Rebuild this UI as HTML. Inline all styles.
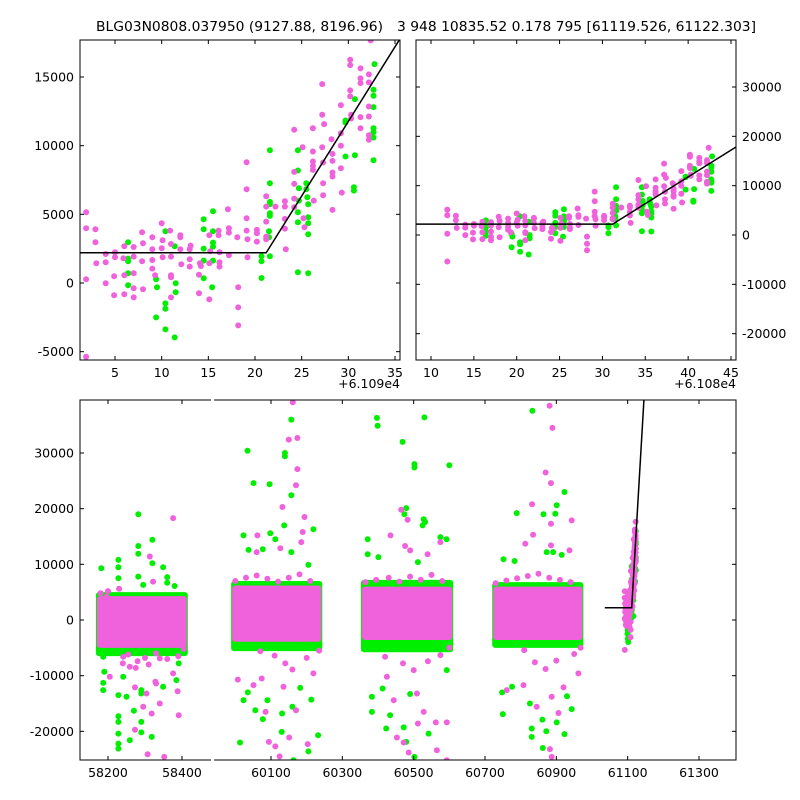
<!DOCTYPE html>
<html><head><meta charset="utf-8">
<style>
html,body{margin:0;padding:0;background:#fff;}
svg{display:block;font-family:"DejaVu Sans","Liberation Sans",sans-serif;}
</style></head>
<body>
<svg id="chart" width="800" height="800" viewBox="0 0 800 800" xmlns="http://www.w3.org/2000/svg">
<rect width="800" height="800" fill="#fff"/>
<text x="96" y="31" font-size="13" textLength="287" lengthAdjust="spacingAndGlyphs">BLG03N0808.037950 (9127.88, 8196.96)</text>
<text x="397" y="31" font-size="13" textLength="359" lengthAdjust="spacingAndGlyphs">3 948 10835.52 0.178 795 [61119.526, 61122.303]</text>
</svg>
<script>
// ---- data: recent season (days relative to 61090) ----
const pinkDays=[1.9,1.9,2.9,2.9,1.9,3.0,4.0,4.0,4.0,5.0,5.0,4.9,4.9,6.0,5.9,6.0,6.0,7.0,7.0,7.0,7.0,7.0,7.9,8.0,7.9,8.0,9.0,9.0,9.0,9.0,9.3,10.0,10.1,10.0,10.1,10.9,11.0,11.0,11.0,11.0,11.0,12.0,12.0,12.0,12.1,13.1,13.0,13.0,13.0,14.1,14.0,14.0,14.2,15.1,15.2,15.1,15.1,16.1,16.1,16.2,16.2,16.2,17.1,17.2,17.2,17.2,18.1,18.2,18.2,18.2,19.1,19.1,19.1,19.1,19.2,19.2,20.2,20.2,20.2,21.2,21.2,21.2,21.2,21.2,22.2,23.2,23.2,23.2,23.2,23.3,24.2,24.2,24.2,24.2,24.2,25.1,25.2,25.3,26.2,26.2,26.2,26.2,26.2,26.3,27.2,27.2,27.2,27.3,27.3,27.3,27.4,28.2,28.3,28.3,28.3,28.3,28.3,29.2,29.2,29.2,29.2,29.3,30.2,30.2,30.2,30.2,30.3,30.3,31.3,31.3,31.3,31.3,31.3,32.2,32.2,32.2,32.2,32.2,32.2,32.4,1.9];
const pinkFlux=[5152,3985,3912,2965,267,1434,2114,1507,-24,2236,1871,486,-899,2673,1798,559,-826,2624,1920,705,-389,-1045,3694,2892,1580,-462,3329,2454,1677,1045,559,4350,3110,2527,1871,3815,2843,1920,559,413,-1045,3475,3329,2454,1361,2722,2454,1725,1191,1434,608,-753,1239,3475,2309,1434,-1191,3815,3475,2236,1507,1191,5370,3985,3669,2017,3329,-316,-1774,-3086,8797,6828,4714,3815,3183,1871,3864,3621,3013,6318,5565,4471,3378,3183,5565,5954,5565,4666,3961,2454,11154,8092,7217,6148,5516,9890,4714,4058,11275,9574,8845,8529,8238,6002,14483,12247,9890,8772,7266,6391,11567,10473,9404,8894,8043,7752,5322,12952,10911,9987,8359,6585,16257,15868,14021,13584,11980,12247,15625,14896,14556,12077,11275,15188,14604,12855,12126,10765,10425,17666,-5370];
const greenDays=[6.4,6.4,6.4,6.4,6.4,9.4,9.5,9.4,10.4,10.4,10.4,10.4,11.4,11.5,11.5,11.4,14.5,14.5,14.5,14.5,14.5,15.5,15.5,15.5,15.5,15.5,15.4,20.7,20.7,20.7,21.6,21.6,21.6,21.6,21.6,21.6,21.5,21.5,21.6,24.6,24.6,24.7,24.7,24.6,24.6,24.6,25.5,25.5,25.6,25.7,25.7,25.7,25.7,25.7,29.7,29.7,29.7,30.7,30.7,30.6,30.6,32.8,32.7,32.7,32.7,32.7,32.7,32.7,32.7];
const greenFlux=[2965,1774,1580,705,-170,267,-316,-2503,3767,-1482,-1871,-3378,2673,-24,-680,-3961,4641,3912,2503,1628,340,5225,3767,2940,2649,1628,-316,1944,1580,365,9671,7266,5905,5735,5079,4884,3767,3329,1944,9671,8189,6901,6002,5152,4423,778,7266,6828,6245,5735,4787,4350,3548,705,11834,11688,9210,13389,9307,6974,6731,15941,14070,13632,12806,11275,10984,10595,8942];
// ---- piecewise model ----
const modelBreak=[61111.2];
const modelBase=[2200];
const modelSlope=[1087];
const modelStart=[61036];
// ---- historical seasons (dense cores) ----
const seasonStart=[58170,59991,60355,60723];
const seasonEnd=[58413,60241,60608,60973];
const seasonPinkLo=[-5000,-3900,-3600,-3600];
const seasonPinkHi=[4300,6200,6000,6000];
const seasonGreenLo=[-6500,-5600,-5800,-5000];
const seasonGreenHi=[5000,7000,7200,6800];
// ---- core edge points (ragged edges) ----
const edgePinkDays=[58180,58200,58230,58255,58280,58300,58330,58360,58390,58405,58240,58275,58310,58340,
60000,60030,60060,60090,60120,60150,60180,60210,60235,60070,60110,60140,60160,60200,
60365,60395,60430,60460,60490,60520,60550,60580,60600,60420,60470,60500,60540,60575,
60730,60760,60790,60820,60850,60880,60910,60940,60968,60810,60840,60870,60900,60950];
const edgePinkFlux=[4800,5200,5600,-6200,-7400,-6800,-6000,-7000,-6500,-5200,-7800,-8600,-8000,-6900,
7000,7600,8000,7400,6900,7600,8200,7000,-5500,-5600,-6400,-7800,-8900,-6800,
6800,7200,7600,6900,7800,7200,8100,7000,-5000,-6600,-7800,-9000,-7400,-6300,
6600,7100,7500,7900,8300,7600,7200,6800,-5000,-5400,-7600,-8800,-7300,-6100];
// ---- historical outliers ----
const histGreenDays=[58182,58228,58228,58228,58282,58282,58282,58320,58320,58349,58360,58360,58380,58187,58187,58187,58190,58228,58228,58228,58228,58228,58228,58259,58290,58290,58290,58290,58270,58250,58318,58385,58391,58241,58349,58282,58295,
60034,60051,60096,60023,60037,60139,60139,60157,60157,60137,60098,60112,60219,60205,60157,60077,60013,60130,60205,60232,60023,60056,60077,60131,60163,60160,60182,60213,60035,60090,
60397,60399,60530,60469,60502,60502,60600,60479,60474,60528,60532,60525,60371,60371,60401,60575,60592,60512,60383,60423,60472,60479,60502,60542,60383,60413,60434,60490,60593,
60833,60923,60901,60864,60789,60897,60873,60891,60752,60783,60915,60831,60831,60861,60872,60862,60901,60923,60943,60750,60826,60930,60748,60776];
const histGreenFlux=[9300,10800,9480,7500,19000,13300,11900,14400,10200,9480,7700,6700,6100,-6600,-11300,-12600,-9300,-13500,-17300,-18300,-20400,-22200,-23100,-21600,-18300,-20200,-12600,-13200,-16300,-13800,-21000,-10800,-7800,-10200,-12000,7800,6300,
30400,24600,24400,15200,12600,30000,29400,36000,22400,17000,15600,14500,16300,9900,12200,12700,-22000,-20100,-23600,-20700,-14400,-16200,-17800,-16800,-25200,-15600,-12200,-14300,-13000,-14400,
36300,34900,36400,32000,28000,27400,27800,20100,19000,18100,17600,17000,14500,11800,11300,14900,14500,10400,-16500,-19500,-19300,-21900,-24600,-20400,-13800,-12300,-17100,-13300,-9000,
37600,23000,20600,19000,19200,19100,12200,12200,10900,10600,11700,-19500,-21000,-17900,-20000,-23000,-18400,-20500,-16000,-16900,-15000,-13700,-13000,-12000];
const histPinkDays=[58376,58313,58322,58205,58273,58304,58295,58318,58273,58307,58352,58391,58388,58340,58328,58241,58259,58376,58196,58330,
60161,60150,60174,60174,60170,60132,60194,60189,60185,60062,60060,60126,60074,60051,60085,60112,60094,60124,60151,60203,60170,60135,60007,60219,
60435,60465,60483,60476,60490,60539,60575,60593,60562,60565,60486,60453,60472,60512,60528,60444,60509,60425,60593,
60881,60889,60870,60885,60832,60885,60943,60835,60813,60885,60937,60882,60887,60906,60887,60920,60962,60808,60845,60761];
const histPinkFlux=[18300,11400,6900,-10200,-12100,-13200,-15600,-16800,-19700,-24100,-24600,-17100,-12800,-15000,-11100,-6600,-8400,-9600,4200,-11400,
39100,32400,32700,27100,24200,20300,18500,15800,14000,15200,12200,12900,-10500,-11700,-16500,-22700,-21900,-24500,-21100,-22300,-16200,-12000,-10700,-9600,
15200,19800,18000,13300,12500,11800,14000,-18400,-18400,-23400,-23800,-21100,-22000,-18600,-16500,-14400,-13200,-10200,-25200,
38500,34500,26500,24600,20800,17300,17900,15300,13700,13400,12500,-23200,-24600,-16700,-13800,-12100,-9600,-11700,-15600,-12600];
// ---- ticks ----
const tlXTicks=[5,10,15,20,25,30,35];
const tlYTicks=[-5000,0,5000,10000,15000];
const trXTicks=[10,15,20,25,30,35,40,45];
const trYTicks=[-20000,-10000,0,10000,20000,30000];
const bLeftTicks=[58200,58400];
const bRightTicks=[60100,60300,60500,60700,60900,61100,61300];
const bYTicks=[-20000,-10000,0,10000,20000,30000];

const svg=document.getElementById('chart');
const NS='http://www.w3.org/2000/svg';
function mk(tag,attrs,parent){const e=document.createElementNS(NS,tag);for(const k in attrs)e.setAttribute(k,attrs[k]);(parent||svg).appendChild(e);return e;}
function lin(d0,d1,r0,r1){return v=>r0+(v-d0)*(r1-r0)/(d1-d0);}
const PINK='#f062dc',GREEN='#00ee00';
let clipN=0;
function panel(name,x0,y0,x1,y1){
  const id='clip'+(clipN++);
  const cp=mk('clipPath',{id:id});
  mk('rect',{x:x0,y:y0,width:x1-x0,height:y1-y0},cp);
  const g=mk('g',{'clip-path':'url(#'+id+')'});
  
  
  return g;
}
function dot(g,x,y,c,name){
  const d=mk('circle',{cx:x.toFixed(1),cy:y.toFixed(1),r:3,fill:c},g);
  
  
}
function frame(name,x0,y0,x1,y1){
  const r=mk('rect',{x:x0,y:y0,width:x1-x0,height:y1-y0,fill:'none',stroke:'#000','stroke-width':1});
  
  
}
function xTick(px,y0,y1,label,name){
  mk('line',{x1:px,y1:y1,x2:px,y2:y1-4,stroke:'#000'});
  mk('line',{x1:px,y1:y0,x2:px,y2:y0+4,stroke:'#000'});
  const t=mk('text',{x:px,y:y1+17,'font-size':12.5,'text-anchor':'middle'});
  t.textContent=label;
  
  
}
function yTick(py,x0,x1,label,side,name){
  mk('line',{x1:x0,y1:py,x2:x0+4,y2:py,stroke:'#000'});
  mk('line',{x1:x1,y1:py,x2:x1-4,y2:py,stroke:'#000'});
  const t=mk('text',{x:side==='left'?x0-6:x1+6,y:py+4.5,'font-size':12.5,'text-anchor':side==='left'?'end':'start'});
  t.textContent=label;
  
  
}
function model(t){return modelBase[0]+Math.max(0,t-modelBreak[0])*modelSlope[0];}

// ---------- top-left panel ----------
(function(){
  const X0=80,Y0=40,X1=400,Y1=360;
  const sx=lin(5,35,115,395), sy=lin(0,15000,283,77);
  const g=panel('top-left',X0,Y0,X1,Y1);
  greenDays.forEach((d,i)=>dot(g,sx(d),sy(greenFlux[i]),GREEN,'top-left-green-point'));
  pinkDays.forEach((d,i)=>dot(g,sx(d),sy(pinkFlux[i]),PINK,'top-left-pink-point'));
  const a=1.0,b=36.0;
  const pts=[a,modelBreak[0]-61090,b].map(d=>sx(d).toFixed(1)+','+sy(model(d+61090)).toFixed(1)).join(' ');
  const l=mk('polyline',{points:pts,fill:'none',stroke:'#000','stroke-width':1.5},g);
  
  
  frame('top-left',X0,Y0,X1,Y1);
  tlXTicks.forEach(v=>xTick(sx(v),Y0,Y1,String(v),'top-left-x-tick-label'));
  tlYTicks.forEach(v=>yTick(sy(v),X0,X1,String(v),'left','top-left-y-tick-label'));
  const o=mk('text',{x:400,y:388,'font-size':12.5,'text-anchor':'end'});
  o.textContent='+6.109e4';
  
  
})();

// ---------- top-right panel ----------
(function(){
  const X0=416,Y0=40,X1=736,Y1=360;
  const sx=lin(10,45,431,731), sy=lin(0,30000,235,87);
  const g=panel('top-right',X0,Y0,X1,Y1);
  greenDays.forEach((d,i)=>dot(g,sx(d+10),sy(greenFlux[i]),GREEN,'top-right-green-point'));
  pinkDays.forEach((d,i)=>dot(g,sx(d+10),sy(pinkFlux[i]),PINK,'top-right-pink-point'));
  const a=8.0,b=46.0;
  const pts=[a,modelBreak[0]-61080,b].map(d=>sx(d).toFixed(1)+','+sy(model(d+61080)).toFixed(1)).join(' ');
  const l=mk('polyline',{points:pts,fill:'none',stroke:'#000','stroke-width':1.5},g);
  
  
  frame('top-right',X0,Y0,X1,Y1);
  trXTicks.forEach(v=>xTick(sx(v),Y0,Y1,String(v),'top-right-x-tick-label'));
  trYTicks.forEach(v=>yTick(sy(v),X0,X1,String(v),'right','top-right-y-tick-label'));
  const o=mk('text',{x:736,y:388,'font-size':12.5,'text-anchor':'end'});
  o.textContent='+6.108e4';
  
  
})();

// ---------- bottom broken-axis panel ----------
(function(){
  const Y0=400,Y1=760;
  const LX0=80,LX1=211,RX0=214,RX1=736;
  const sxL=lin(58200,58400,108,182), sxR=lin(60100,61300,271,699);
  const sy=lin(0,30000,620,453);
  const sx=d=>d<59000?sxL(d):sxR(d);
  const gL=panel('bottom-left',LX0,Y0,LX1,Y1);
  const gR=panel('bottom-right',RX0,Y0,RX1,Y1);
  const gOf=d=>d<59000?gL:gR;
  seasonStart.forEach((s,i)=>{
    const g=gOf(s);
    const x0=sx(s),x1=sx(seasonEnd[i]);
    const rg=mk('rect',{x:x0-1,y:sy(seasonGreenHi[i]),width:x1-x0+2,height:sy(seasonGreenLo[i])-sy(seasonGreenHi[i]),rx:3,fill:GREEN},g);
    
    
  });
  histGreenDays.forEach((d,i)=>dot(gOf(d),sx(d),sy(histGreenFlux[i]),GREEN,'bottom-green-point'));
  greenDays.forEach((d,i)=>dot(gR,sx(d+61090),sy(greenFlux[i]),GREEN,'bottom-green-point'));
  seasonStart.forEach((s,i)=>{
    const g=gOf(s);
    const x0=sx(s),x1=sx(seasonEnd[i]);
    const rp=mk('rect',{x:x0,y:sy(seasonPinkHi[i]),width:x1-x0,height:sy(seasonPinkLo[i])-sy(seasonPinkHi[i]),rx:3,fill:PINK},g);
    
    
  });
  edgePinkDays.forEach((d,i)=>dot(gOf(d),sx(d),sy(edgePinkFlux[i]),PINK,'bottom-pink-edge-point'));
  histPinkDays.forEach((d,i)=>dot(gOf(d),sx(d),sy(histPinkFlux[i]),PINK,'bottom-pink-point'));
  pinkDays.forEach((d,i)=>dot(gR,sx(d+61090),sy(pinkFlux[i]),PINK,'bottom-pink-point'));
  const pts=[modelStart[0],modelBreak[0],61200].map(d=>sxR(d).toFixed(1)+','+sy(model(d)).toFixed(1)).join(' ');
  const l=mk('polyline',{points:pts,fill:'none',stroke:'#000','stroke-width':1.5},gR);
  
  
  const fr=mk('path',{d:`M${LX1},${Y0}H${LX0}V${Y1}H${LX1} M${RX0},${Y0}H${RX1}V${Y1}H${RX0}`,fill:'none',stroke:'#000','stroke-width':1});
  
  
  bLeftTicks.forEach(v=>xTick(sxL(v),Y0,Y1,String(v),'bottom-x-tick-label'));
  bRightTicks.forEach(v=>xTick(sxR(v),Y0,Y1,String(v),'bottom-x-tick-label'));
  bYTicks.forEach(v=>{
    const py=sy(v);
    mk('line',{x1:LX0,y1:py,x2:LX0+4,y2:py,stroke:'#000'});
    mk('line',{x1:RX1,y1:py,x2:RX1-4,y2:py,stroke:'#000'});
    const t=mk('text',{x:LX0-6,y:py+4.5,'font-size':12.5,'text-anchor':'end'});
    t.textContent=String(v);
    
    
  });
})();
</script>
</body></html>
